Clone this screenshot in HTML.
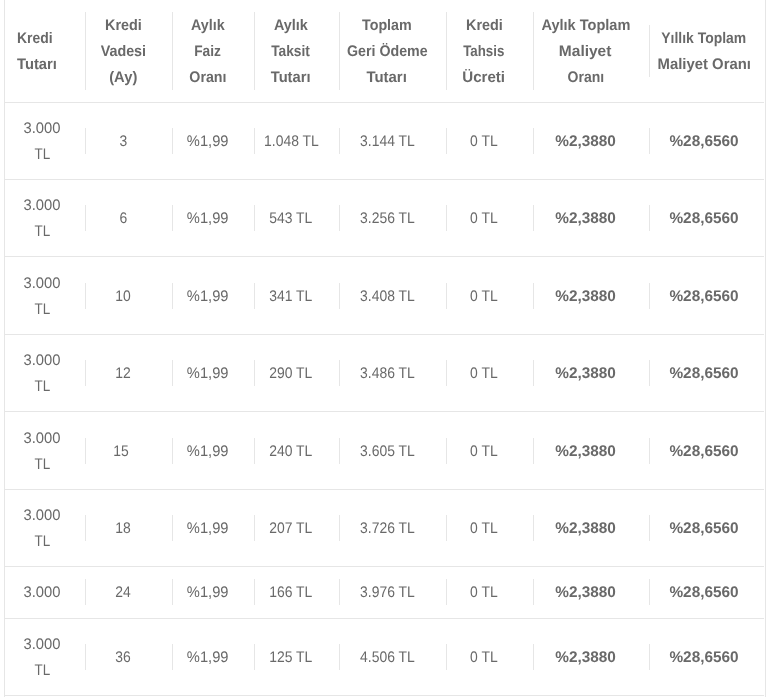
<!DOCTYPE html>
<html lang="tr">
<head>
<meta charset="utf-8">
<title>Kredi Tablosu</title>
<style>
html,body{margin:0;padding:0;background:#fff;}
body{width:768px;height:697px;overflow:hidden;position:relative;
  font-family:"Liberation Sans",Arial,sans-serif;font-size:16px;color:#696969;text-rendering:geometricPrecision;}
.wrap{position:absolute;left:4px;top:0;width:760px;height:697px;
  border-left:1px solid #e6e6e6;border-right:1px solid #e6e6e6;overflow:hidden;will-change:transform;}
table{border-collapse:collapse;table-layout:fixed;width:759px;position:absolute;left:0;top:0;}
td,th{padding:0 6px;vertical-align:middle;text-align:center;border-bottom:1px solid #e6e6e6;}
th{font-weight:bold;}
.c{border-left:1px solid #e6e6e6;line-height:26px;white-space:nowrap;}
.f{line-height:26px;white-space:nowrap;}
.s{display:inline-block;transform:translateY(1px) scale(var(--x,.87),.96);}
.l{display:inline-block;transform:translateY(1px) scale(var(--x,.87),.96);transform-origin:0 50%;}
.b{font-weight:bold;}
.t{display:inline-block;transform:translateY(1.1px) scale(.87,.96);}
.tp{display:inline-block;transform:translateY(1.1px) scale(.918,.96);}
.tk{display:inline-block;transform:translateY(1.1px) scale(.925,.96);}
.tl{display:inline-block;transform:translateY(1.1px) scale(.84,.96);}
.tb{display:inline-block;transform:translateY(1.1px) scale(.96,.96);}
.h1{padding-left:6px;}
.o .c,.o .f{position:relative;top:1px;}
</style>
</head>
<body>
<div class="wrap">
<table>
<colgroup>
<col style="width:74px"><col style="width:87px"><col style="width:82px"><col style="width:85px"><col style="width:107px"><col style="width:87px"><col style="width:116px"><col style="width:121px"></colgroup>
<tr style="height:102px">
<th><div class="f h1" style="text-align:left"><span class="l">Kredi</span><br><span class="l" style="--x:0.92">Tutarı</span></div></th>
<th><div class="c"><span class="s" style="--x:0.9">Kredi</span><br><span class="s" style="--x:0.895">Vadesi</span><br><span class="s" style="--x:0.92">(Ay)</span></div></th>
<th><div class="c"><span class="s" style="--x:0.895">Aylık</span><br><span class="s" style="--x:0.857">Faiz</span><br><span class="s" style="--x:0.89">Oranı</span></div></th>
<th><div class="c"><span class="s" style="--x:0.9">Aylık</span><br><span class="s" style="--x:0.859">Taksit</span><br><span class="s" style="--x:0.92">Tutarı</span></div></th>
<th><div class="c"><span class="s" style="--x:0.892">Toplam</span><br><span class="s" style="--x:0.889">Geri Ödeme</span><br><span class="s" style="--x:0.933">Tutarı</span></div></th>
<th><div class="c"><span class="s" style="--x:0.899">Kredi</span><br><span class="s" style="--x:0.831">Tahsis</span><br><span class="s" style="--x:0.943">Ücreti</span></div></th>
<th><div class="c"><span class="s" style="--x:0.909">Aylık Toplam</span><br><span class="s" style="--x:0.969">Maliyet</span><br><span class="s" style="--x:0.875">Oranı</span></div></th>
<th><div class="c"><span class="s" style="--x:0.87">Yıllık Toplam</span><br><span class="s" style="--x:0.929">Maliyet Oranı</span></div></th>
</tr>
<tr style="height:77px">
<td><div class="f"><span class="tk">3.000</span><br><span class="tl">TL</span></div></td>
<td><div class="c"><span class="t">3</span></div></td>
<td><div class="c"><span class="tp">%1,99</span></div></td>
<td><div class="c"><span class="t">1.048 TL</span></div></td>
<td><div class="c"><span class="t">3.144 TL</span></div></td>
<td><div class="c"><span class="t">0 TL</span></div></td>
<td><div class="c b"><span class="tb">%2,3880</span></div></td>
<td><div class="c b"><span class="tb">%28,6560</span></div></td>
</tr>
<tr style="height:77px">
<td><div class="f"><span class="tk">3.000</span><br><span class="tl">TL</span></div></td>
<td><div class="c"><span class="t">6</span></div></td>
<td><div class="c"><span class="tp">%1,99</span></div></td>
<td><div class="c"><span class="t">543 TL</span></div></td>
<td><div class="c"><span class="t">3.256 TL</span></div></td>
<td><div class="c"><span class="t">0 TL</span></div></td>
<td><div class="c b"><span class="tb">%2,3880</span></div></td>
<td><div class="c b"><span class="tb">%28,6560</span></div></td>
</tr>
<tr class="o" style="height:78px">
<td><div class="f"><span class="tk">3.000</span><br><span class="tl">TL</span></div></td>
<td><div class="c"><span class="t">10</span></div></td>
<td><div class="c"><span class="tp">%1,99</span></div></td>
<td><div class="c"><span class="t">341 TL</span></div></td>
<td><div class="c"><span class="t">3.408 TL</span></div></td>
<td><div class="c"><span class="t">0 TL</span></div></td>
<td><div class="c b"><span class="tb">%2,3880</span></div></td>
<td><div class="c b"><span class="tb">%28,6560</span></div></td>
</tr>
<tr style="height:77px">
<td><div class="f"><span class="tk">3.000</span><br><span class="tl">TL</span></div></td>
<td><div class="c"><span class="t">12</span></div></td>
<td><div class="c"><span class="tp">%1,99</span></div></td>
<td><div class="c"><span class="t">290 TL</span></div></td>
<td><div class="c"><span class="t">3.486 TL</span></div></td>
<td><div class="c"><span class="t">0 TL</span></div></td>
<td><div class="c b"><span class="tb">%2,3880</span></div></td>
<td><div class="c b"><span class="tb">%28,6560</span></div></td>
</tr>
<tr class="o" style="height:78px">
<td><div class="f"><span class="tk">3.000</span><br><span class="tl">TL</span></div></td>
<td><div class="c"><span class="t" style="margin-right:4px">15</span></div></td>
<td><div class="c"><span class="tp">%1,99</span></div></td>
<td><div class="c"><span class="t">240 TL</span></div></td>
<td><div class="c"><span class="t">3.605 TL</span></div></td>
<td><div class="c"><span class="t">0 TL</span></div></td>
<td><div class="c b"><span class="tb">%2,3880</span></div></td>
<td><div class="c b"><span class="tb">%28,6560</span></div></td>
</tr>
<tr style="height:77px">
<td><div class="f"><span class="tk">3.000</span><br><span class="tl">TL</span></div></td>
<td><div class="c"><span class="t">18</span></div></td>
<td><div class="c"><span class="tp">%1,99</span></div></td>
<td><div class="c"><span class="t">207 TL</span></div></td>
<td><div class="c"><span class="t">3.726 TL</span></div></td>
<td><div class="c"><span class="t">0 TL</span></div></td>
<td><div class="c b"><span class="tb">%2,3880</span></div></td>
<td><div class="c b"><span class="tb">%28,6560</span></div></td>
</tr>
<tr style="height:52px">
<td><div class="f"><span class="tk">3.000</span></div></td>
<td><div class="c"><span class="t">24</span></div></td>
<td><div class="c"><span class="tp">%1,99</span></div></td>
<td><div class="c"><span class="t">166 TL</span></div></td>
<td><div class="c"><span class="t">3.976 TL</span></div></td>
<td><div class="c"><span class="t">0 TL</span></div></td>
<td><div class="c b"><span class="tb">%2,3880</span></div></td>
<td><div class="c b"><span class="tb">%28,6560</span></div></td>
</tr>
<tr style="height:77px">
<td><div class="f"><span class="tk">3.000</span><br><span class="tl">TL</span></div></td>
<td><div class="c"><span class="t">36</span></div></td>
<td><div class="c"><span class="tp">%1,99</span></div></td>
<td><div class="c"><span class="t">125 TL</span></div></td>
<td><div class="c"><span class="t">4.506 TL</span></div></td>
<td><div class="c"><span class="t">0 TL</span></div></td>
<td><div class="c b"><span class="tb">%2,3880</span></div></td>
<td><div class="c b"><span class="tb">%28,6560</span></div></td>
</tr>
</table>
</div>
</body>
</html>
